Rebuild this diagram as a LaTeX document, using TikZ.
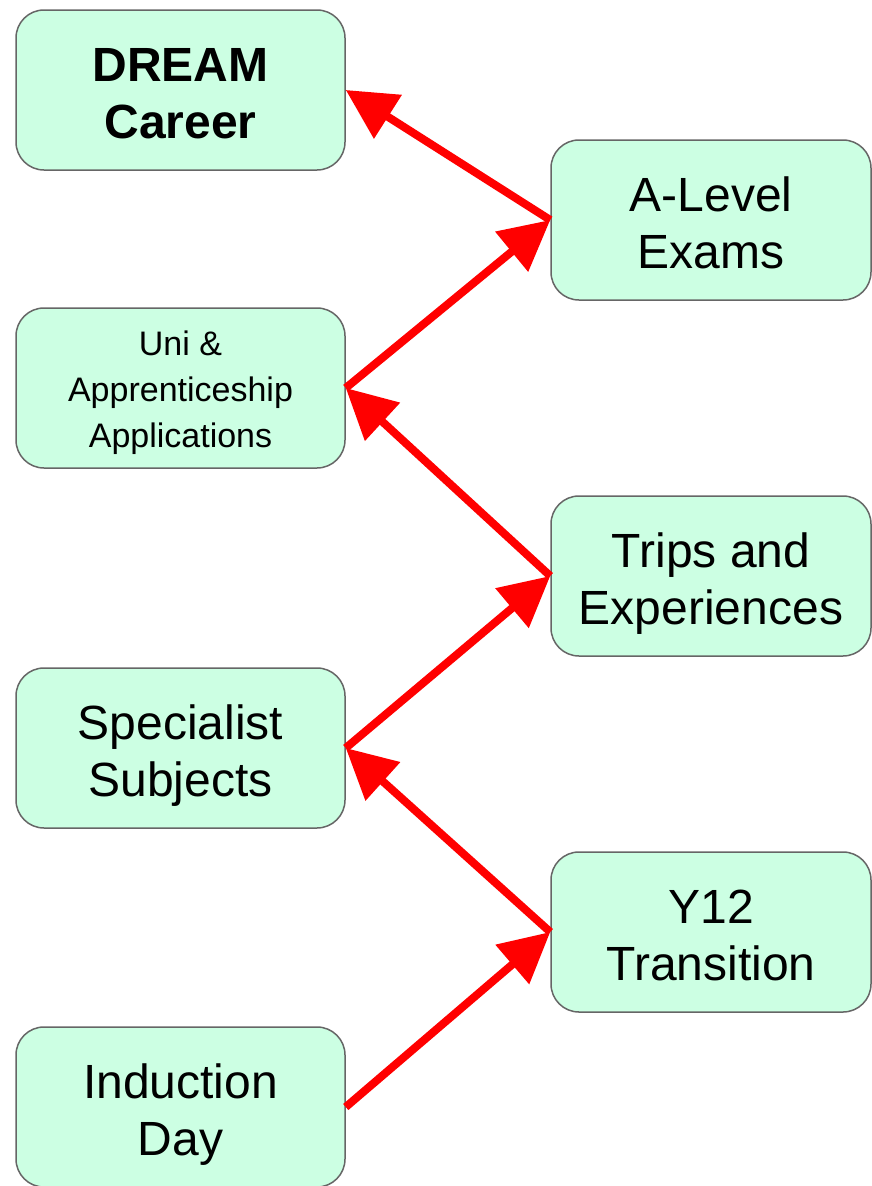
\documentclass[tikz,border=0pt]{standalone}
\usepackage{fontspec}
\setmainfont{Liberation Sans}
\usepackage{xcolor}
\usetikzlibrary{arrows.meta}

\definecolor{boxfill}{HTML}{CCFFE3}
\definecolor{boxline}{HTML}{666666}

\begin{document}
\begin{tikzpicture}[x=1pt,y=-1pt,
		stage/.style={draw=boxline, line width=1.5pt, fill=boxfill, rounded corners=28pt,
			minimum width=329pt, minimum height=160pt, align=center, inner sep=0pt,
			font=\fontsize{48}{57}\selectfont, text height=96pt, text depth=0pt},
		small/.style={font=\fontsize{34}{46}\selectfont, text height=118pt},
		link/.style={red, line width=8pt, -{Triangle[length=50pt,width=50pt]}}]
		\useasboundingbox (0,0) rectangle (871,1186);
		
		\node[stage] (dream) at (180.5,90) {\textbf{DREAM}\\\textbf{Career}};
		\node[stage, small] (uni) at (180.5,388) {Uni \&\\Apprenticeship\\Applications};
		\node[stage] (spec) at (180.5,748) {Specialist\\Subjects};
		\node[stage] (ind) at (180.5,1107) {Induction\\Day};
		
		\node[stage, minimum width=320pt] (alev) at (711,220) {A-Level\\Exams};
		\node[stage, minimum width=320pt] (trips) at (711,576) {Trips and\\Experiences};
		\node[stage, minimum width=320pt] (y12) at (711,932) {Y12\\Transition};
		
		\draw[link] (alev.west) -- (dream.east);
		\draw[link] (uni.east) -- (alev.west);
		\draw[link] (trips.west) -- (uni.east);
		\draw[link] (spec.east) -- (trips.west);
		\draw[link] (y12.west) -- (spec.east);
		\draw[link] (ind.east) -- (y12.west);
	\end{tikzpicture}
\end{document}
